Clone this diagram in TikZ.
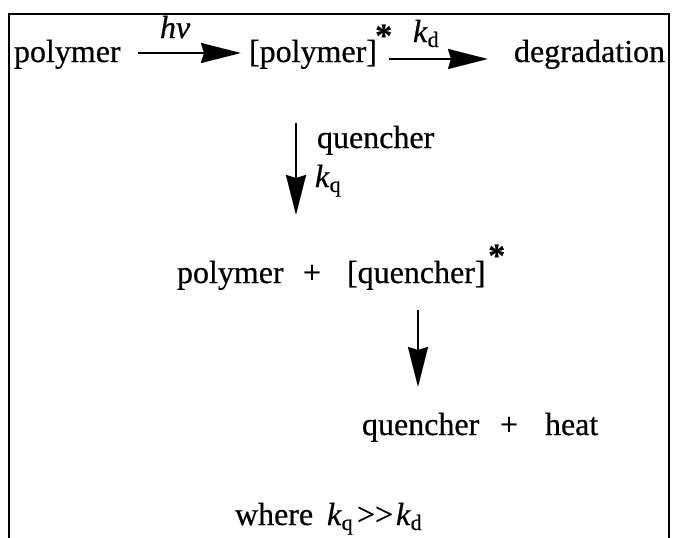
\documentclass[tikz,border=0pt]{standalone}
\usepackage{fontspec}
\setmainfont[FakeBold=0.6]{Liberation Serif}
\usetikzlibrary{arrows.meta}
\newcommand\kwith[1]{\textit{k}\raisebox{-5pt}{\fontsize{22}{22}\selectfont #1}}
\begin{document}
\begin{tikzpicture}[x=1pt,y=1pt,
  txt/.style={inner sep=0pt, outer sep=0pt, anchor=base west, font=\fontsize{32}{36}\selectfont},
  starlbl/.style={inner sep=0pt, anchor=base west, font=\fontsize{34}{36}\selectfont\bfseries},
  arr/.style={line width=2pt, -{Stealth[length=40pt,width=20pt,inset=3pt]}},
  frame/.style={line width=2pt}]
\useasboundingbox (0,0) rectangle (673,-538);
\draw[frame] (9,-538) -- (9,-14) -- (669,-14) -- (669,-538);
% row 1
\node[txt] (p1) at (14,-62) {polymer};
\node[txt] (hv) at (160,-38) {\textit{hν}};
\node[txt] (pp) at (249,-62) {[polymer]};
\node[starlbl] (s1) at (375,-47) {*};
\node[txt] (kd1) at (413,-42) {\kwith{d}};
\node[txt] (dg) at (514,-62) {degradation};
\draw[arr] ([xshift=17pt,yshift=9pt]p1.base east) -- ([xshift=-8pt,yshift=9pt]pp.base west);
\draw[arr] ([xshift=12pt,yshift=3pt]pp.base east) -- ([xshift=-26pt,yshift=3pt]dg.base west);
% first vertical
\node[txt] (ql) at (317,-148) {quencher};
\node[txt] (kq1) at (315,-187) {\kwith{q}};
\node[txt] (p2) at (177,-283) {polymer};
\node[txt] (pl2) at (303,-283) {+};
\node[txt] (qq) at (347,-283) {[quencher]};
\node[starlbl] (s2) at (488,-267) {*};
\draw[arr] ([xshift=47pt,yshift=-61pt]pp.base west) -- ([xshift=-51pt,yshift=68pt]qq.base west);
% second vertical
\node[txt] (q3) at (362,-435) {quencher};
\node[txt] (pl3) at (500,-435) {+};
\node[txt] (ht) at (545,-435) {heat};
\draw[arr] ([xshift=71pt,yshift=-27pt]qq.base west) -- ([xshift=56pt,yshift=48pt]q3.base west);
% where line
\node[txt] (wh) at (235,-525) {where};
\node[txt] (kq2) at (327,-525) {\kwith{q}};
\node[txt] (gg) at (357,-525) {>{}>};
\node[txt] (kd2) at (396,-525) {\kwith{d}};
\end{tikzpicture}
\end{document}
